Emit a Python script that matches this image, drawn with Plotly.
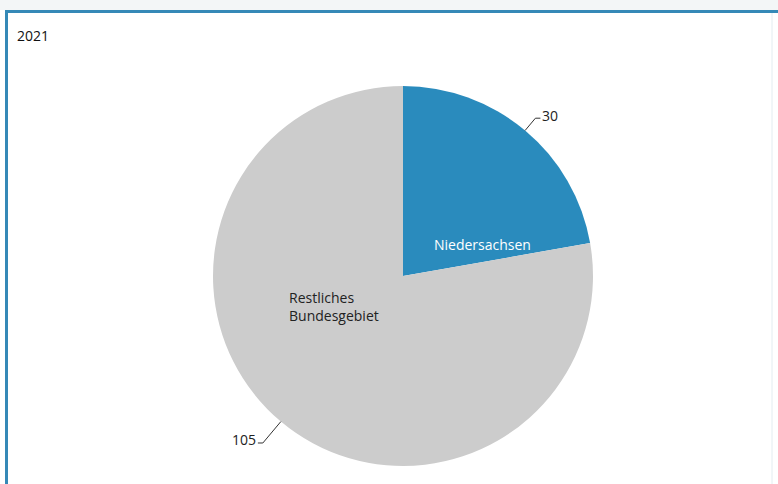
import math
import plotly.graph_objects as go

# Data
year_label = "2021"
regions = ["Niedersachsen", "Restliches Bundesgebiet"]
values = [30, 105]
slice_colors = ["#2a8bbd", "#cccccc"]

W, H = 778, 484
CX, CY, R = 403, 276, 190  # pie centre and radius in pixels


def px(x):
    return x / W


def py(y):
    return 1 - y / H


fig = go.Figure(
    go.Pie(
        labels=regions,
        values=values,
        sort=False,
        direction="clockwise",
        rotation=0,
        textinfo="none",
        hoverinfo="label+value",
        marker=dict(colors=slice_colors, line=dict(width=0)),
        domain=dict(x=[px(CX - R), px(CX + R)], y=[py(CY + R), py(CY - R)]),
        showlegend=False,
    )
)

shapes = []
annotations = []

# Value labels with leader lines at the middle angle of each slice
total = sum(values)
start = 0.0
leader_len = [16, 28]
for i, v in enumerate(values):
    mid = (start + v / 2) / total * 2 * math.pi
    start += v
    sx, sy = CX + R * math.sin(mid), CY - R * math.cos(mid)
    r2 = R + leader_len[i]
    ex, ey = CX + r2 * math.sin(mid), CY - r2 * math.cos(mid)
    side = 1 if math.sin(mid) >= 0 else -1
    hx = ex + side * 5
    shapes.append(dict(type="path", xref="paper", yref="paper",
                       path=f"M {px(sx)} {py(sy)} L {px(ex)} {py(ey)} L {px(hx)} {py(ey)}",
                       line=dict(color="#333333", width=1)))
    annotations.append(dict(x=px(hx), y=py(ey - 3), xref="paper", yref="paper",
                            text=str(v), showarrow=False,
                            xanchor="left" if side > 0 else "right", yanchor="middle",
                            font=dict(family="Open Sans", size=14, color="#222222")))

# Region names inside the slices
annotations.append(dict(x=px(482), y=py(244), xref="paper", yref="paper",
                        text=regions[0], showarrow=False, xanchor="center", yanchor="middle",
                        font=dict(family="Open Sans", size=14, color="#ffffff")))
annotations.append(dict(x=px(287), y=py(306), xref="paper", yref="paper",
                        text="Restliches<br>Bundesgebiet", showarrow=False, align="left",
                        xanchor="left", yanchor="middle",
                        font=dict(family="Open Sans", size=14, color="#222222")))

# Year heading
annotations.append(dict(x=px(15), y=py(35), xref="paper", yref="paper",
                        text=year_label, showarrow=False, xanchor="left", yanchor="middle",
                        font=dict(family="Open Sans", size=14, color="#111111")))

# Frame around the panel
shapes.append(dict(type="rect", xref="paper", yref="paper", x0=0, x1=1, y0=py(10), y1=1,
                   fillcolor="#f3f6f7", line=dict(width=0), layer="below"))
shapes.append(dict(type="line", xref="paper", yref="paper", x0=px(772), x1=px(772),
                   y0=0, y1=py(11), line=dict(color="#e3ecf0", width=1)))
shapes.append(dict(type="path", xref="paper", yref="paper",
                   path=f"M {px(6.5)} 0 L {px(6.5)} {py(11.5)} L 1 {py(11.5)}",
                   line=dict(color="#3589b7", width=3)))

fig.update_layout(
    width=W, height=H,
    margin=dict(l=0, r=0, t=0, b=0),
    paper_bgcolor="#ffffff",
    plot_bgcolor="#ffffff",
    shapes=shapes,
    annotations=annotations,
)

fig.write_html("out.html")
